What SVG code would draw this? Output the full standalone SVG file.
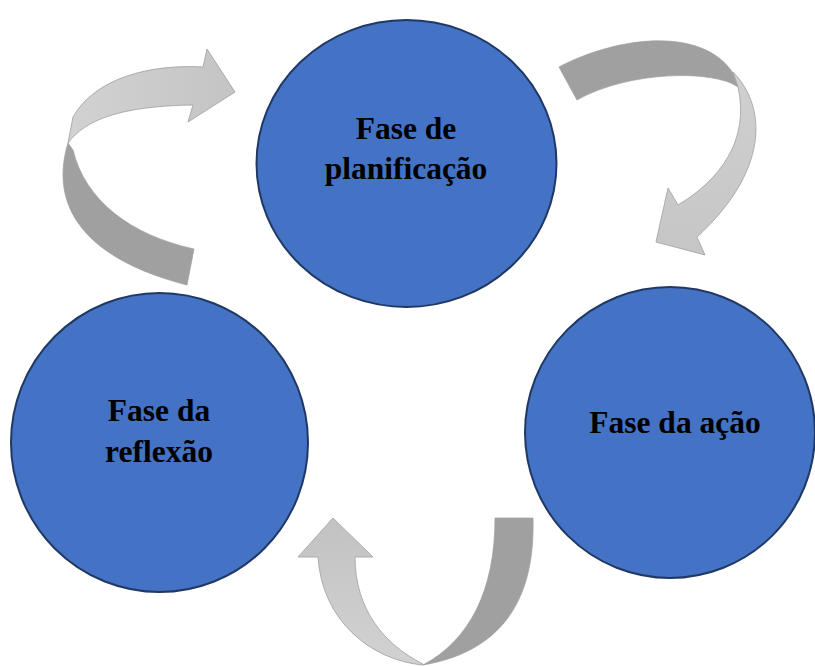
<svg xmlns="http://www.w3.org/2000/svg" width="815" height="666" viewBox="0 0 815 666">
<defs>
<style>
.node{fill:#4472C4;stroke:#203864;stroke-width:2}
.lbl{font-family:"Liberation Serif","Times New Roman",serif;font-weight:bold;font-size:31.5px;fill:#000;text-anchor:middle}
.dark{fill:#A0A0A0;stroke:#A0A0A0;stroke-width:0.75}
.light{stroke:#A6A6A6;stroke-width:0.9}
</style>
<linearGradient id="g1" x1="0" y1="0" x2="1" y2="0"><stop offset="0" stop-color="#D2D2D2"/><stop offset="1" stop-color="#C4C4C4"/></linearGradient>
<linearGradient id="g2" x1="0" y1="0" x2="0" y2="1"><stop offset="0" stop-color="#D0D0D0"/><stop offset="1" stop-color="#C6C6C6"/></linearGradient>
<linearGradient id="g3" x1="0" y1="1" x2="0" y2="0"><stop offset="0" stop-color="#D2D2D2"/><stop offset="1" stop-color="#C2C2C2"/></linearGradient>
</defs>
<g id="connectors">
<g id="arrow-reflexao-planificacao">
<path class="dark" d="M68,143 C52,195 70,255 187,285 L194,249 C130,235 85,200 73,150 Z"/>
<path class="light" fill="url(#g1)" d="M68,143 C85,120 120,106 193,105 L188,122 L235,92 L207,49 L203,67 C150,64 95,78 73,117 Z"/>
</g>
<g id="arrow-planificacao-acao">
<path class="dark" d="M559,67 C620,35 710,25 737,80 L738,87 C715,70 630,70 577,100 Z"/>
<path class="light" fill="url(#g2)" d="M733,72 C768,108 768,172 697,237 L705,255 L656,242 L668,188 L678,205 C720,180 750,140 738,87 Z"/>
</g>
<g id="arrow-acao-reflexao">
<path class="dark" d="M495,518 L533,518 C535,590 510,650 423,665 C470,640 495,590 495,518 Z"/>
<path class="light" fill="url(#g3)" d="M423,665 C370,660 322,620 318,557 L298,557 L333,518 L373,557 L355,557 C355,610 385,645 423,664 Z"/>
</g>
</g>
<g id="node-planificacao">
<ellipse class="node" cx="406.5" cy="163.5" rx="150" ry="143.5"/>
<text class="lbl" x="406" y="139">Fase de</text>
<text class="lbl" x="406" y="179">planificação</text>
</g>
<g id="node-acao">
<ellipse class="node" cx="670" cy="432.5" rx="145" ry="145.5"/>
<text class="lbl" x="675" y="433">Fase da ação</text>
</g>
<g id="node-reflexao">
<ellipse class="node" cx="159.5" cy="442.5" rx="148.5" ry="149.5"/>
<text class="lbl" x="159" y="421">Fase da</text>
<text class="lbl" x="159" y="462">reflexão</text>
</g>
</svg>
